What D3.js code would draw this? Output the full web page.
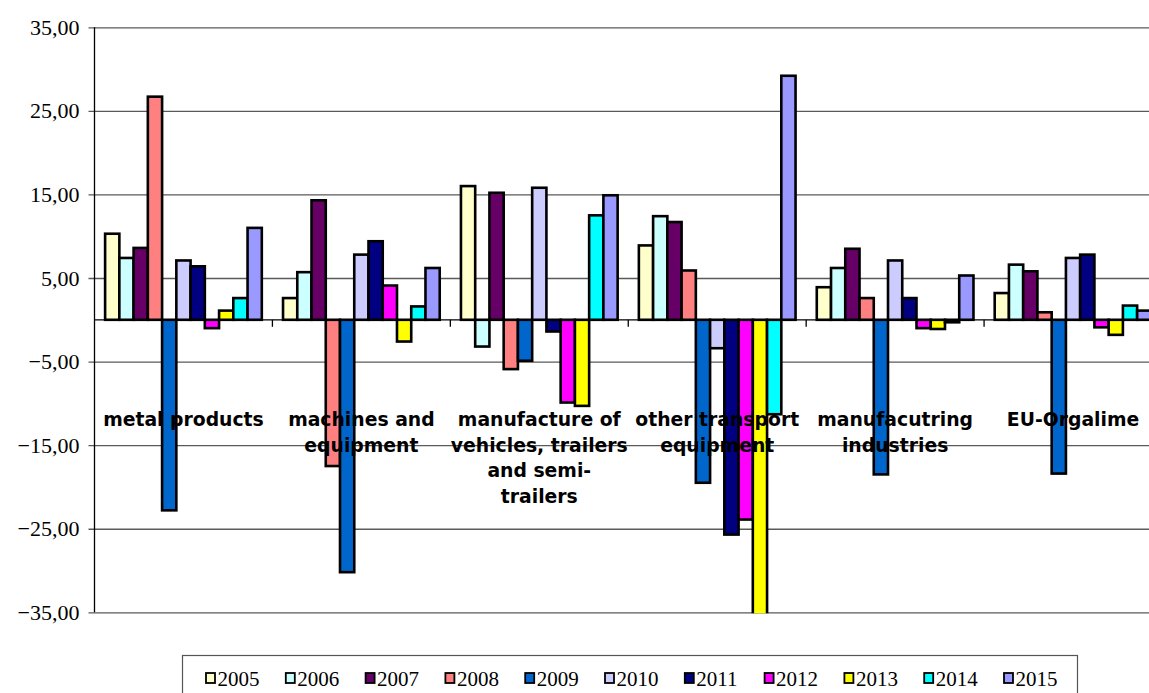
<!DOCTYPE html>
<html>
<head>
<meta charset="utf-8">
<script src="https://cdn.jsdelivr.net/npm/d3@7"></script>
<style>
  html, body { margin: 0; padding: 0; background: #fff; overflow: hidden; }
  svg { display: block; }
  .serif { font-family: "Liberation Serif", "Times New Roman", Times, serif; }
</style>
</head>
<body>
<svg id="chart" width="1149" height="693"></svg>
<script>
// Growth by sector and year (%)
const categories = [
  "metal products",
  "machines and equipment",
  "manufacture of vehicles, trailers and semi-trailers",
  "other transport equipment",
  "manufacutring industries",
  "EU-Orgalime"
];
// Wrapped category label lines
const categoryLines = [
  ["metal products"],
  ["machines and", "equipment"],
  ["manufacture of", "vehicles, trailers", "and semi-", "trailers"],
  ["other transport", "equipment"],
  ["manufacutring", "industries"],
  ["EU-Orgalime"]
];
const years = ["2005", "2006", "2007", "2008", "2009", "2010", "2011", "2012", "2013", "2014", "2015"];

const v2005 = [10.3, 2.6, 16.0, 8.9, 3.9, 3.2];
const v2006 = [7.4, 5.7, -3.2, 12.4, 6.2, 6.6];
const v2007 = [8.6, 14.3, 15.2, 11.7, 8.5, 5.8];
const v2008 = [26.7, -17.5, -5.9, 5.9, 2.6, 0.9];
const v2009 = [-22.8, -30.2, -4.9, -19.5, -18.5, -18.4];
const v2010 = [7.1, 7.8, 15.8, -3.4, 7.1, 7.4];
const v2011 = [6.4, 9.4, -1.4, -25.7, 2.6, 7.8];
const v2012 = [-1.0, 4.1, -9.9, -23.9, -1.0, -0.9];
const v2013 = [1.1, -2.6, -10.3, -36.0, -1.1, -1.8];
const v2014 = [2.6, 1.6, 12.5, -11.3, -0.3, 1.7];
const v2015 = [11.0, 6.2, 14.9, 29.2, 5.3, 1.1];

const yTicks = [35, 25, 15, 5, -5, -15, -25, -35];

const seriesValues = [v2005, v2006, v2007, v2008, v2009, v2010, v2011, v2012, v2013, v2014, v2015];
const colors = ["#FFFFCC", "#CCFFFF", "#660066", "#FF8080", "#0066CC", "#CCCCFF",
                "#000080", "#FF00FF", "#FFFF00", "#00FFFF", "#9999FF"];

const svg = d3.select("#chart");
const plot = { left: 94.5, right: 1162, top: 27.3, bottom: 612.3 };

const y = d3.scaleLinear().domain([-35, 35]).range([plot.bottom, plot.top]);
const x0 = d3.scaleBand().domain(categories).range([plot.left, plot.right]).padding(0);
const x1 = d3.scaleBand().domain(years).range([0, x0.bandwidth()]).paddingInner(0).paddingOuter(0.745);
const color = d3.scaleOrdinal().domain(years).range(colors);

const locale = d3.formatLocale({ decimal: ",", thousands: ".", grouping: [3], currency: ["", ""] });
const fmt = locale.format(".2f");

svg.append("defs").append("clipPath").attr("id", "plotClip")
  .append("rect")
  .attr("x", plot.left).attr("y", plot.top - 2)
  .attr("width", plot.right - plot.left + 10).attr("height", plot.bottom - plot.top + 3);

// Horizontal gridlines with outside tick marks
const yAxis = d3.axisLeft(y).tickValues(yTicks).tickFormat(fmt)
  .tickSize(-(plot.right - plot.left)).tickSizeOuter(0).tickPadding(15);
const yg = svg.append("g").attr("transform", `translate(${plot.left},0)`).call(yAxis);
yg.attr("font-family", null);
yg.select(".domain").remove();
yg.selectAll(".tick line").attr("stroke", "#5a5a5a").attr("stroke-width", 1.3)
  .attr("x1", -6);
yg.selectAll(".tick text")
  .attr("class", "serif")
  .attr("font-size", 22).attr("fill", "#000");

// Vertical axis line
svg.append("line")
  .attr("x1", plot.left).attr("x2", plot.left)
  .attr("y1", plot.top).attr("y2", plot.bottom)
  .attr("stroke", "#000").attr("stroke-width", 1.3);

// Bars
const rows = categories.map((c, i) => years.map((yr, j) => ({ cat: c, year: yr, value: seriesValues[j][i] })));
const barLayer = svg.append("g").attr("clip-path", "url(#plotClip)");
barLayer.selectAll("g.cat")
  .data(rows)
  .join("g")
  .attr("class", "cat")
  .attr("transform", (d, i) => `translate(${x0(categories[i])},0)`)
  .selectAll("rect")
  .data(d => d)
  .join("rect")
  .attr("x", d => x1(d.year))
  .attr("width", x1.bandwidth())
  .attr("y", d => y(Math.max(0, d.value)))
  .attr("height", d => Math.abs(y(d.value) - y(0)))
  .attr("fill", d => color(d.year))
  .attr("stroke", "#000")
  .attr("stroke-width", 2.6);

// Zero line with category tick marks
svg.append("line")
  .attr("x1", plot.left).attr("x2", plot.right)
  .attr("y1", y(0)).attr("y2", y(0))
  .attr("stroke", "#000").attr("stroke-width", 1.3);
svg.append("g").selectAll("line")
  .data(categories.slice(1))
  .join("line")
  .attr("x1", d => x0(d)).attr("x2", d => x0(d))
  .attr("y1", y(0)).attr("y2", y(0) + 7)
  .attr("stroke", "#000").attr("stroke-width", 1.3);

// Category labels
const labels = svg.append("g")
  .attr("font-family", "'DejaVu Sans', Verdana, sans-serif")
  .attr("font-weight", "bold")
  .attr("font-size", 18.8)
  .attr("text-anchor", "middle")
  .attr("fill", "#000");
categories.forEach((c, i) => {
  const t = labels.append("text")
    .attr("x", x0(c) + x0.bandwidth() / 2)
    .attr("y", 426);
  t.selectAll("tspan")
    .data(categoryLines[i])
    .join("tspan")
    .attr("x", x0(c) + x0.bandwidth() / 2)
    .attr("dy", (d, k) => k === 0 ? 0 : 25.6)
    .text(d => d);
});

// Legend
const legend = svg.append("g");
legend.append("rect")
  .attr("x", 182.5).attr("y", 655.5)
  .attr("width", 895).attr("height", 60)
  .attr("fill", "#fff").attr("stroke", "#555").attr("stroke-width", 1.2);
const legendStep = 79.8;
const li = legend.selectAll("g.item")
  .data(years)
  .join("g")
  .attr("class", "item")
  .attr("transform", (d, i) => `translate(${205.5 + i * legendStep},0)`);
li.append("rect")
  .attr("x", 0.5).attr("y", 673)
  .attr("width", 9).attr("height", 10)
  .attr("fill", d => color(d))
  .attr("stroke", "#000").attr("stroke-width", 1.8);
li.append("text")
  .attr("class", "serif")
  .attr("x", 12).attr("y", 686)
  .attr("font-size", 21)
  .attr("fill", "#000")
  .text(d => d);
</script>
</body>
</html>
